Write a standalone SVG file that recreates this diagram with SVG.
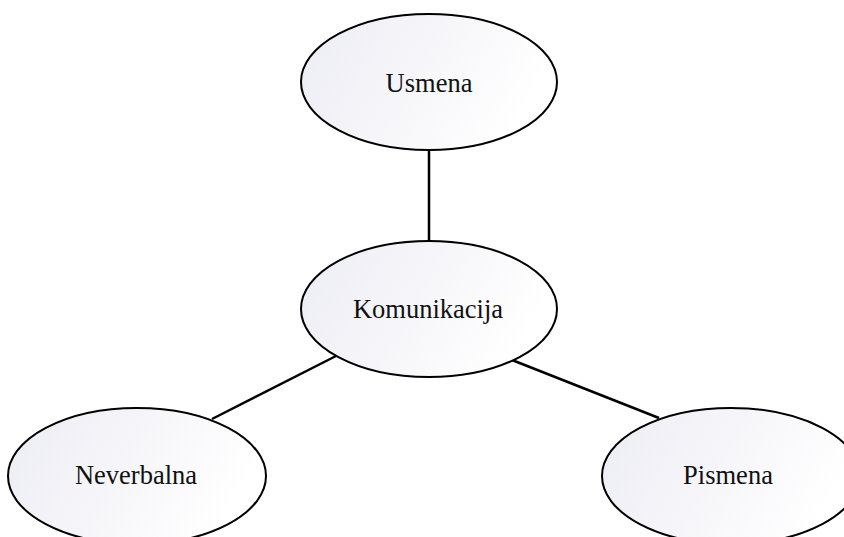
<svg xmlns="http://www.w3.org/2000/svg" width="844" height="537" viewBox="0 0 844 537">
  <defs>
    <linearGradient id="nodeFill" x1="0" y1="0" x2="1" y2="0.3">
      <stop offset="0" stop-color="#ececf4"/>
      <stop offset="1" stop-color="#ffffff"/>
    </linearGradient>
  </defs>
  <style>
    .node ellipse { fill: url(#nodeFill); stroke: #000; stroke-width: 2; }
    .node text { font-family: "Liberation Serif", "Times New Roman", serif; font-size: 26.5px; fill: #111; text-anchor: middle; }
    .edges line { stroke: #000; stroke-width: 2.5; }
  </style>
  <rect width="844" height="537" fill="#fff"/>
  <g class="edges">
    <line x1="429" y1="150" x2="429" y2="241"/>
    <line x1="336" y1="356" x2="212" y2="419"/>
    <line x1="512" y1="360" x2="659" y2="418"/>
  </g>
  <g id="usmena" class="node">
    <ellipse cx="429" cy="82" rx="128" ry="68"/>
    <text x="429" y="92">Usmena</text>
  </g>
  <g id="komunikacija" class="node">
    <ellipse cx="429" cy="309" rx="128" ry="68"/>
    <text x="428" y="318">Komunikacija</text>
  </g>
  <g id="neverbalna" class="node">
    <ellipse cx="137" cy="476" rx="129" ry="68"/>
    <text x="136" y="484">Neverbalna</text>
  </g>
  <g id="pismena" class="node">
    <ellipse cx="731" cy="476" rx="129" ry="68"/>
    <text x="728" y="484">Pismena</text>
  </g>
</svg>
